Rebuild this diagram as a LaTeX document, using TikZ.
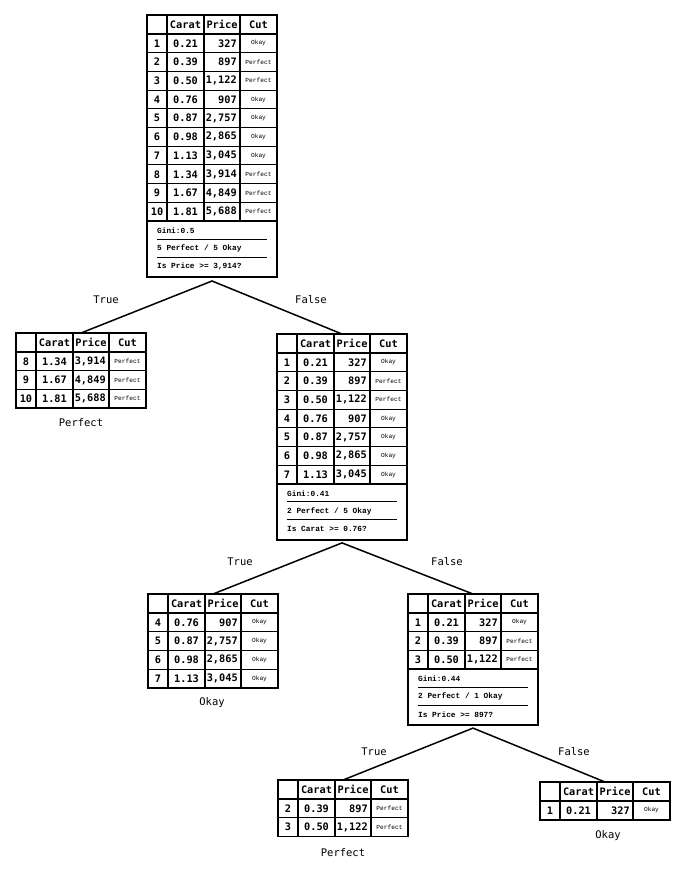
\documentclass[tikz,border=0pt]{standalone}
\usepackage{fontspec}
\setmonofont{DejaVu Sans Mono}
\newfontfamily\cutfont{Liberation Mono}
\newfontfamily\infofont{Liberation Mono}
\tikzset{
  hd/.style={font=\ttfamily\bfseries\fontsize{10.3}{12}\selectfont, inner sep=0pt},
  num/.style={font=\ttfamily\bfseries\fontsize{10.3}{12}\selectfont, inner sep=0pt},
  cutx/.style={font=\cutfont\fontsize{6.2}{7}\selectfont, inner sep=0pt},
  info/.style={font=\infofont\bfseries\fontsize{7.8}{9}\selectfont, inner sep=0pt, anchor=west},
  lbl/.style={font=\ttfamily\fontsize{10.5}{12}\selectfont, inner sep=0pt},
  gridln/.style={line width=1.1pt},
  sepln/.style={line width=0.9pt},
  frame/.style={draw, line width=1.7pt, inner sep=0pt, outer sep=0pt, anchor=north west},
  edge/.style={line width=1.5pt, line cap=round},
}
% #1 name, #2 left, #3 top, #4 number of rows, #5 rows
\newcommand{\dtab}[5]{%
 \begin{scope}[shift={(#2,#3)}]
  \pgfmathsetmacro{\tabH}{19+18.7*#4}
  \foreach \i/\c/\p/\k [count=\n] in {#5} {
    \pgfmathsetmacro{\yy}{19+18.7*\n-9.35}
    \node[num] (#1-i\n) at (10,\yy) {\i};
    \node[num] (#1-c\n) at (38.5,\yy) {\c};
    \node[num, anchor=east] (#1-p\n) at (90,\yy) {\p};
    \node[cutx] (#1-k\n) at (111.5,\yy) {\k};
    \draw[gridln] (0,\yy+9.35) -- (130,\yy+9.35);
  }
  \node[hd] (#1-hc) at (38.5,9.5) {Carat};
  \node[hd] (#1-hp) at (75,9.5) {Price};
  \node[hd] (#1-hk) at (111.5,9.5) {Cut};
  \draw[gridln] (0,19) -- (130,19);
  \foreach \xx in {20,57,93} \draw[gridln] (\xx,0) -- (\xx,\tabH);
  \node[frame, minimum width=130pt, minimum height=\tabH pt] (#1) at (0,0) {};
 \end{scope}
}
% #1 name, #2 left, #3 top, #4 #5 #6 lines
\newcommand{\dinfo}[6]{%
 \begin{scope}[shift={(#2,#3)}]
  \node[frame, minimum width=130pt, minimum height=56pt] (#1) at (0,0) {};
  \node[info] (#1-a) at (10,9.5) {#4};
  \node[info] (#1-b) at (10,27.5) {#5};
  \node[info] (#1-c) at (10,45.5) {#6};
  \draw[sepln] (10,18) -- (120,18);
  \draw[sepln] (10,36) -- (120,36);
 \end{scope}
}
\begin{document}
\begin{tikzpicture}[x=1pt,y=-1pt]
\fill[white] (0,0) rectangle (683,872);
\useasboundingbox (0,0) rectangle (683,872);

% root
\dtab{root}{147}{15}{10}{1/0.21/327/Okay, 2/0.39/897/Perfect, 3/0.50/{1,122}/Perfect, 4/0.76/907/Okay, 5/0.87/{2,757}/Okay, 6/0.98/{2,865}/Okay, 7/1.13/{3,045}/Okay, 8/1.34/{3,914}/Perfect, 9/1.67/{4,849}/Perfect, 10/1.81/{5,688}/Perfect}
\dinfo{rooti}{147}{221}{Gini:0.5}{5 Perfect / 5 Okay}{Is Price >= 3,914?}

% left leaf
\dtab{leafa}{16}{333}{3}{8/1.34/{3,914}/Perfect, 9/1.67/{4,849}/Perfect, 10/1.81/{5,688}/Perfect}
\node[lbl] (leafa-l) at (81,423) {Perfect};

% middle
\dtab{mid}{277}{334}{7}{1/0.21/327/Okay, 2/0.39/897/Perfect, 3/0.50/{1,122}/Perfect, 4/0.76/907/Okay, 5/0.87/{2,757}/Okay, 6/0.98/{2,865}/Okay, 7/1.13/{3,045}/Okay}
\dinfo{midi}{277}{483.9}{Gini:0.41}{2 Perfect / 5 Okay}{Is Carat >= 0.76?}

% left2 leaf
\dtab{leafb}{148}{594}{4}{4/0.76/907/Okay, 5/0.87/{2,757}/Okay, 6/0.98/{2,865}/Okay, 7/1.13/{3,045}/Okay}
\node[lbl] (leafb-l) at (212,703) {Okay};

% right2
\dtab{rt}{408}{594}{3}{1/0.21/327/Okay, 2/0.39/897/Perfect, 3/0.50/{1,122}/Perfect}
\dinfo{rti}{408}{669.1}{Gini:0.44}{2 Perfect / 1 Okay}{Is Price >= 897?}

% bottom leaves
\dtab{leafc}{278}{780}{2}{2/0.39/897/Perfect, 3/0.50/{1,122}/Perfect}
\node[lbl] (leafc-l) at (343,853) {Perfect};
\dtab{leafd}{540}{782}{1}{1/0.21/327/Okay}
\node[lbl] (leafd-l) at (608,836) {Okay};

% edges
\coordinate (ra) at ([yshift=-4pt]rooti.south);
\draw[edge] (ra) -- (leafa.north);
\draw[edge] (ra) -- (mid.north);
\coordinate (ma) at ([yshift=-3pt]midi.south);
\draw[edge] (ma) -- (leafb.north);
\draw[edge] (ma) -- (rt.north);
\coordinate (rta) at ([yshift=-3pt]rti.south);
\draw[edge] (rta) -- (leafc.north);
\draw[edge] (rta) -- (leafd.north);

% edge labels
\node[lbl] (t1) at (106,300) {True};
\node[lbl] (f1) at (311,300) {False};
\node[lbl] (t2) at (240,562) {True};
\node[lbl] (f2) at (447,562) {False};
\node[lbl] (t3) at (374,752) {True};
\node[lbl] (f3) at (574,752) {False};
\end{tikzpicture}
\end{document}
